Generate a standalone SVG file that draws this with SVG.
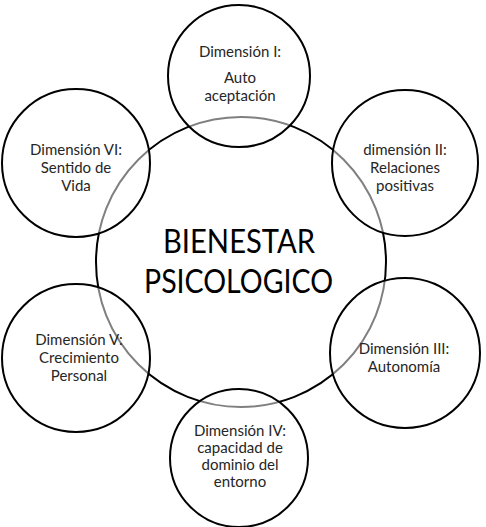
<svg xmlns="http://www.w3.org/2000/svg" width="486" height="527" viewBox="0 0 486 527">
<style>
.big{fill:#fff;stroke:#000;stroke-width:2}
.sm{fill:#fff;fill-opacity:0.5;stroke:#000;stroke-width:2}
.t{font-family:Lato,"Open Sans","Liberation Sans",sans-serif;font-size:15px;fill:#262626;text-anchor:middle}
.title{font-family:Lato,"Open Sans","Liberation Sans",sans-serif;font-size:32px;fill:#000;text-anchor:middle}
</style>
<rect width="486" height="527" fill="#fff"/>
<g id="center">
<circle class="big" cx="241" cy="262" r="145"/>
<text class="title" x="239" y="253" textLength="152" lengthAdjust="spacingAndGlyphs">BIENESTAR</text>
<text class="title" x="238.5" y="293" textLength="189" lengthAdjust="spacingAndGlyphs">PSICOLOGICO</text>
</g>
<g id="connectors"></g>
<g id="dim1">
<circle class="sm" cx="239" cy="76" r="71"/>
<text class="t" x="240" y="57">Dimensión I:</text>
<text class="t" x="240" y="83">Auto</text>
<text class="t" x="240" y="101">aceptación</text>
</g>
<g id="dim2">
<circle class="sm" cx="405" cy="163" r="73"/>
<text class="t" x="405" y="155">dimensión II:</text>
<text class="t" x="405" y="173">Relaciones</text>
<text class="t" x="405" y="191">positivas</text>
</g>
<g id="dim3">
<circle class="sm" cx="405" cy="353" r="75"/>
<text class="t" x="404" y="354">Dimensión III:</text>
<text class="t" x="404" y="372">Autonomía</text>
</g>
<g id="dim4">
<circle class="sm" cx="239" cy="458" r="69"/>
<text class="t" x="240" y="436">Dimensión IV:</text>
<text class="t" x="240" y="453">capacidad de</text>
<text class="t" x="240" y="470">dominio del</text>
<text class="t" x="240" y="487">entorno</text>
</g>
<g id="dim5">
<circle class="sm" cx="76" cy="358" r="74"/>
<text class="t" x="79" y="345">Dimensión V:</text>
<text class="t" x="79" y="363">Crecimiento</text>
<text class="t" x="79" y="381">Personal</text>
</g>
<g id="dim6">
<circle class="sm" cx="76" cy="163" r="74"/>
<text class="t" x="76" y="155">Dimensión VI:</text>
<text class="t" x="76" y="173">Sentido de</text>
<text class="t" x="76" y="191">Vida</text>
</g>
</svg>
